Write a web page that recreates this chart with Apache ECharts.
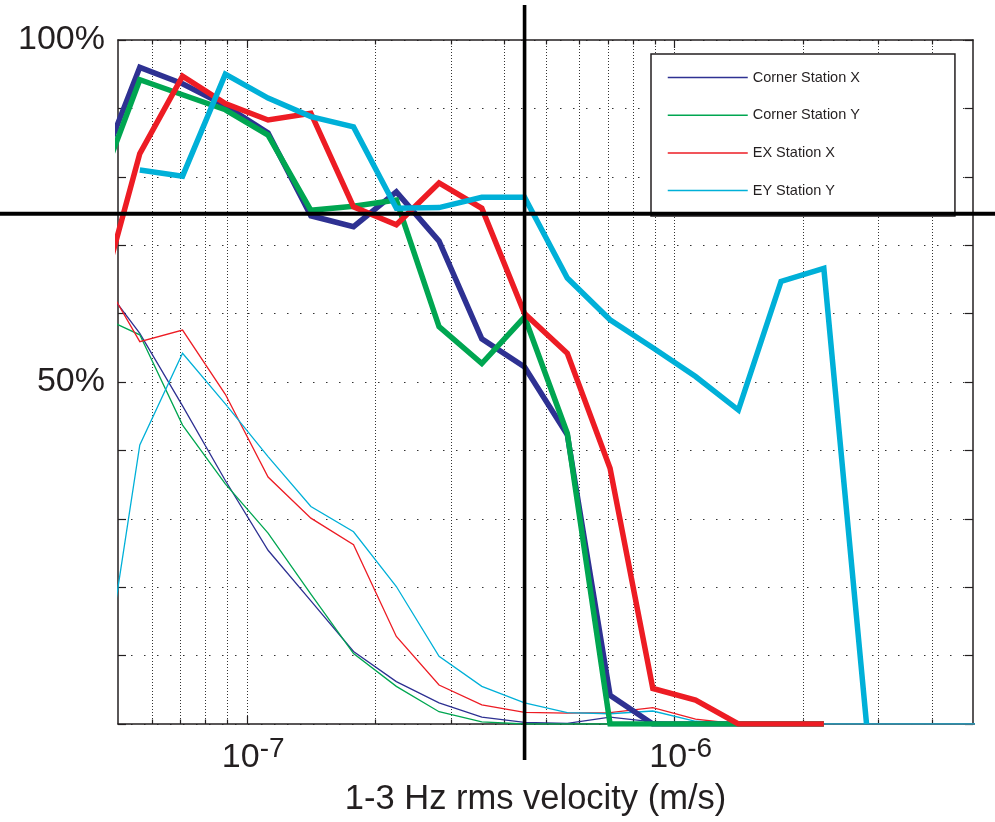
<!DOCTYPE html>
<html>
<head>
<meta charset="utf-8">
<script src="https://cdn.jsdelivr.net/npm/echarts@6/dist/echarts.min.js"></script>
<style>
html,body{margin:0;padding:0;background:#fff;}
#chart{width:995px;height:822px;}
</style>
</head>
<body>
<div id="chart"></div>
<script>
// bin centres (m/s)
const xValues = [4.467e-8, 5.623e-8, 7.079e-8, 8.913e-8, 1.122e-7, 1.413e-7, 1.778e-7, 2.239e-7, 2.818e-7, 3.548e-7, 4.467e-7, 5.623e-7, 7.079e-7, 8.913e-7, 1.122e-6, 1.413e-6, 1.778e-6, 2.239e-6, 2.818e-6, 3.548e-6, 4.467e-6, 5.623e-6];

// thick curves (%)
const cornerXThick = [80.0, 96.0, 93.6, 90.4, 86.4, 74.3, 72.7, 77.8, 70.6, 56.3, 52.2, 42.3, 4.2, 0, 0, 0, 0, 0, null, null, null, null];
const cornerYThick = [77.5, 94.2, 92.0, 89.8, 86.1, 75.1, 75.7, 76.6, 58.1, 52.7, 59.5, 42.5, 0, 0, 0, 0, 0, 0, null, null, null, null];
const exXThick = [60.4, 83.4, 94.7, 90.7, 88.3, 89.3, 75.6, 73.0, 79.1, 75.4, 60.0, 54.2, 37.4, 5.2, 3.5, 0, 0, 0, null, null, null, null];
const eyYThick = [null, 81.0, 80.1, 95.0, 91.5, 88.8, 87.3, 75.4, 75.5, 77.0, 77.0, 65.2, 59.1, 55.0, 50.8, 45.9, 64.7, 66.6, 0, null, null, null];

// thin curves (%)
const cornerXThin = [65.4, 57.1, 46.5, 35.6, 25.4, 18.0, 10.6, 6.2, 3.1, 1.0, 0.25, 0.1, 1.0, 0.3, 0, 0, 0, 0, 0, 0, 0, 0];
const cornerYThin = [59.8, 56.9, 43.7, 35.1, 27.9, 19.0, 10.3, 5.5, 1.8, 0.3, 0, 0, 0, 0, 0, 0, 0, 0, 0, 0, 0, 0];
const exXThin = [66.7, 55.9, 57.6, 48.2, 36.1, 30.1, 26.2, 12.8, 5.7, 2.8, 1.7, 1.6, 1.65, 2.4, 0.7, 0, 0, 0, 0, 0, 0, 0];
const eyYThin = [0, 40.8, 54.2, 46.8, 39.1, 31.8, 28.1, 20.1, 9.9, 5.5, 3.1, 1.65, 1.5, 1.9, 0.4, 0, 0, 0, 0, 0, 0, 0];

const seriesNames = ['Corner Station X', 'Corner Station Y', 'EX Station X', 'EY Station Y'];
const seriesColors = ['#2e3192', '#00a651', '#ed1c24', '#00b0d8'];

// axes
const xMin = 5e-8, xMax = 5e-6;
const xMajorTicks = [1e-7, 1e-6];
const xTickBase = ['10', '10'];
const xTickExp = ['-7', '-6'];
const xMinorTicks = [6e-8, 7e-8, 8e-8, 9e-8, 2e-7, 3e-7, 4e-7, 5e-7, 6e-7, 7e-7, 8e-7, 9e-7, 2e-6, 3e-6, 4e-6];
const yTickValues = [50, 100];
const yTickLabels = ['50%', '100%'];
const xAxisTitle = '1-3 Hz rms velocity (m/s)';

// reference cross-hair
const refX = 4.467e-7;
const refY = 74.6;

const FONT = "'Liberation Sans', Arial, Helvetica, sans-serif";
const INK = '#231f20';

function pairs(arr) { return xValues.map((x, i) => [x, arr[i]]); }

const thinSets = [cornerXThin, cornerYThin, exXThin, eyYThin];
const thickSets = [cornerXThick, cornerYThick, exXThick, eyYThick];

const series = [];
thinSets.forEach((arr, i) => {
  series.push({
    name: seriesNames[i], type: 'line', data: pairs(arr), symbol: 'none',
    xAxisIndex: 0, yAxisIndex: 0, z: 3, animation: false, silent: true,
    lineStyle: { color: seriesColors[i], width: 1.3, join: 'miter' },
    itemStyle: { color: seriesColors[i] }
  });
});
thickSets.forEach((arr, i) => {
  series.push({
    name: seriesNames[i], type: 'line', data: pairs(arr), symbol: 'none',
    xAxisIndex: 0, yAxisIndex: 0, z: 5 + i, animation: false, silent: true,
    lineStyle: { color: seriesColors[i], width: 5.5, join: 'miter', cap: 'butt' },
    itemStyle: { color: seriesColors[i] }
  });
});

function isMajor(v) { return xMajorTicks.some(m => Math.abs(v / m - 1) < 1e-6); }

// vertical dotted grid + top/bottom ticks
const gridValues = xMinorTicks.concat(xMajorTicks);
series.push({
  type: 'custom', xAxisIndex: 0, yAxisIndex: 0, z: 1, silent: true, animation: false,
  data: gridValues.map(v => [v, 50]),
  renderItem: function (params, api) {
    const cs = params.coordSys;
    const x = Math.round(api.coord([api.value(0), 50])[0]) + 0.5;
    const len = isMajor(api.value(0)) ? 8 : 4.5;
    const top = cs.y, bot = cs.y + cs.height;
    return {
      type: 'group', children: [
        { type: 'line', shape: { x1: x, y1: top, x2: x, y2: bot }, style: { stroke: '#333', lineWidth: 1, lineDash: [1, 2] } },
        { type: 'line', shape: { x1: x, y1: top, x2: x, y2: top + len }, style: { stroke: INK, lineWidth: 1.2 } },
        { type: 'line', shape: { x1: x, y1: bot, x2: x, y2: bot - len }, style: { stroke: INK, lineWidth: 1.2 } }
      ]
    };
  }
});

// black cross-hair lines
series.push({
  type: 'custom', xAxisIndex: 0, yAxisIndex: 0, z: 20, silent: true, animation: false, clip: false,
  data: [[refX, refY]],
  renderItem: function (params, api) {
    const cs = params.coordSys;
    const p = api.coord([api.value(0), api.value(1)]);
    const W = api.getWidth();
    return {
      type: 'group', children: [
        { type: 'line', shape: { x1: 0, y1: p[1], x2: W, y2: p[1] }, style: { stroke: '#000', lineWidth: 4 } },
        { type: 'line', shape: { x1: p[0], y1: cs.y - 35, x2: p[0], y2: cs.y + cs.height + 36 }, style: { stroke: '#000', lineWidth: 3.6 } }
      ]
    };
  }
});

const chart = echarts.init(document.getElementById('chart'), null, { renderer: 'canvas' });
chart.setOption({
  animation: false,
  backgroundColor: '#fff',
  grid: { left: 118, top: 40, right: 22, bottom: 97, containLabel: false },
  legend: {
    data: seriesNames.map(n => ({ name: n, lineStyle: { width: 1.5 }, itemStyle: { opacity: 0 } })),
    orient: 'vertical', left: 651, top: 54,
    itemWidth: 80, itemHeight: 14, itemGap: 22.7,
    padding: [16, 95, 18, 16],
    backgroundColor: '#fff', borderColor: INK, borderWidth: 1.5,
    selectedMode: false, z: 10,
    itemStyle: { opacity: 0 },
    textStyle: { fontFamily: FONT, fontSize: 14.5, color: INK }
  },
  xAxis: [
    {
      type: 'log', logBase: 10, min: xMin, max: xMax, position: 'bottom',
      axisLine: { show: true, lineStyle: { color: INK, width: 1.5 } },
      axisTick: { show: false }, splitLine: { show: false },
      name: xAxisTitle, nameLocation: 'middle', nameGap: 58,
      nameTextStyle: { fontFamily: FONT, fontSize: 34.5, color: INK, padding: [0, 20, 0, 0] },
      axisLabel: {
        show: true, margin: 11, showMinLabel: true, showMaxLabel: true,
        formatter: function (v) {
          const i = xMajorTicks.findIndex(m => Math.abs(v / m - 1) < 1e-6);
          if (i < 0) return '';
          return '{b|' + xTickBase[i] + '}{s|' + xTickExp[i] + '}';
        },
        padding: [0, 0, 0, 13],
        rich: {
          b: { fontFamily: FONT, fontSize: 34, color: INK, lineHeight: 40, verticalAlign: 'bottom' },
          s: { fontFamily: FONT, fontSize: 28, color: INK, lineHeight: 30, verticalAlign: 'top' }
        }
      }
    },
    {
      type: 'log', logBase: 10, min: xMin, max: xMax, position: 'top',
      axisLine: { show: true, onZero: false, lineStyle: { color: INK, width: 1.5 } },
      axisTick: { show: false }, axisLabel: { show: false }, splitLine: { show: false }
    }
  ],
  yAxis: [
    {
      type: 'value', min: 0, max: 100, interval: 10, position: 'left',
      axisLine: { show: true, lineStyle: { color: INK, width: 1.5 } },
      axisTick: { show: true, inside: true, length: 8, lineStyle: { color: INK, width: 1.2 } },
      splitLine: { show: true, lineStyle: { color: '#333', width: 1, type: [1.5, 11.5] } },
      axisLabel: {
        margin: 13, fontFamily: FONT, fontSize: 34, color: INK,
        formatter: function (v) {
          const i = yTickValues.indexOf(v);
          return i < 0 ? '' : yTickLabels[i];
        }
      }
    },
    {
      type: 'value', min: 0, max: 100, interval: 10, position: 'right',
      axisLine: { show: true, onZero: false, lineStyle: { color: INK, width: 1.5 } },
      axisTick: { show: true, inside: true, length: 8, lineStyle: { color: INK, width: 1.2 } },
      splitLine: { show: false }, axisLabel: { show: false }
    }
  ],
  series: series
});
</script>
</body>
</html>
